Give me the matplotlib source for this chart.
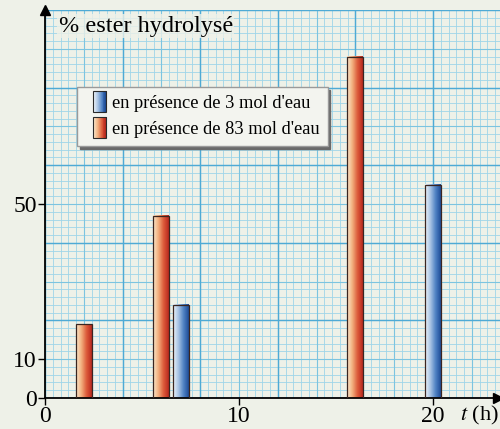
import numpy as np
import matplotlib
matplotlib.use('Agg')
import matplotlib.pyplot as plt
from matplotlib.patches import Rectangle
from matplotlib.legend_handler import HandlerBase
from matplotlib.colors import LinearSegmentedColormap

plt.rcParams['font.family'] = ['Liberation Serif', 'DejaVu Serif']
plt.rcParams['mathtext.fontset'] = 'stix'

# hydrolysis data, t in hours, % of ester hydrolysed
t_83 = [2, 6, 16]
pct_83 = [19, 47, 88]
t_3 = [7, 20]
pct_3 = [24, 55]

labels = ["en présence de 3 mol d'eau", "en présence de 83 mol d'eau"]
xticks = [0, 10, 20]
yticks = [0, 10, 50]

paper = '#eef1e8'
red_cmap = LinearSegmentedColormap.from_list('red', ['#fbe9cf', '#f2b07e', '#dc5a3a', '#b8281e'])
blue_cmap = LinearSegmentedColormap.from_list('blue', ['#f1f6fb', '#a9c4e4', '#4f82c4', '#1d4b96'])

fig = plt.figure(figsize=(5, 4.29), dpi=100, facecolor=paper)
ax = fig.add_axes([0.09, 0.0723, 0.91, 0.9044])
ax.set_facecolor(paper)
xmax = 455 / 19.4
ax.set_xlim(0, xmax)
ax.set_ylim(0, 100)

# graph paper: mm lines, half-cm lines, cm lines
for xv in np.arange(0, xmax, 0.4):
    ax.axvline(xv, color='#9fd5e8', lw=0.6, zorder=0)
for yv in np.arange(0, 100.1, 2):
    ax.axhline(yv, color='#9fd5e8', lw=0.6, zorder=0)
for xv in np.arange(0, xmax, 2):
    ax.axvline(xv, color='#7cc4e0', lw=0.8, zorder=0)
for yv in np.arange(0, 100.1, 10):
    ax.axhline(yv, color='#7cc4e0', lw=0.8, zorder=0)
for xv in np.arange(0, xmax, 4):
    ax.axvline(xv, color='#4eaad5', lw=1.0, zorder=0)
for yv in np.arange(0, 100.1, 20):
    ax.axhline(yv, color='#4eaad5', lw=1.0, zorder=0)

width = 0.82
grad = np.linspace(0, 1, 256).reshape(1, -1)


def gradient_bars(xs, hs, cmap):
    bars = ax.bar(xs, hs, width=width, facecolor='none', edgecolor='#3a2520', lw=0.9, zorder=3)
    for b in bars:
        x0, y0 = b.get_x(), b.get_y()
        ax.imshow(grad, cmap=cmap, aspect='auto', zorder=2,
                  extent=(x0, x0 + b.get_width(), y0, y0 + b.get_height()))
    return bars


gradient_bars(t_83, pct_83, red_cmap)
gradient_bars(t_3, pct_3, blue_cmap)
ax.set_xlim(0, xmax)
ax.set_ylim(0, 100)


class GradientHandler(HandlerBase):
    def __init__(self, cmap):
        super().__init__()
        self.cmap = cmap

    def create_artists(self, legend, orig_handle, xdescent, ydescent, width, height, fontsize, trans):
        arts = []
        n = 14
        w = height * 1.0
        x0 = -xdescent + width - w
        for i in range(n):
            arts.append(Rectangle((x0 + i * w / n, -ydescent - 3), w / n + 0.3, height + 6,
                                  facecolor=self.cmap(i / (n - 1)), edgecolor='none', transform=trans))
        arts.append(Rectangle((x0, -ydescent - 3), w, height + 6, facecolor='none',
                              edgecolor='#2a2a2a', lw=0.8, transform=trans))
        return arts


h3 = Rectangle((0, 0), 1, 1)
h83 = Rectangle((0, 0), 1, 1)
leg = ax.legend([h3, h83], labels, loc='upper left', bbox_to_anchor=(0.07, 0.802),
                handler_map={h3: GradientHandler(blue_cmap), h83: GradientHandler(red_cmap)},
                fontsize=13.2, frameon=True, fancybox=False, shadow={'color': '#6a6a6a', 'alpha': 1},
                borderpad=0.45, handlelength=1.15, handletextpad=0.3, labelspacing=0.5,
                borderaxespad=0)
leg.get_frame().set_facecolor('#f3f4ef')
leg.get_frame().set_edgecolor('#9a9a9a')
leg.get_frame().set_alpha(1)
leg.set_zorder(5)

# axes with arrows
for s in ['top', 'right']:
    ax.spines[s].set_visible(False)
ax.spines['left'].set_linewidth(1.3)
ax.spines['bottom'].set_linewidth(1.3)
ax.plot(0, 1.0, '^', color='black', ms=7, transform=ax.transAxes, clip_on=False, zorder=6)
ax.plot(0.995, 0, '>', color='black', ms=7, transform=ax.transAxes, clip_on=False, zorder=6)

ax.set_xticks(xticks)
ax.set_yticks(yticks)
ax.tick_params(labelsize=17, length=5, width=1, color='black', pad=1)

ax.text(0.03, 0.985, '% ester hydrolysé', transform=ax.transAxes, fontsize=17.5,
        va='top', ha='left', zorder=6,
        bbox=dict(facecolor=paper, edgecolor='none', alpha=0.8, pad=1))
ax.text(xmax - 0.08, -1.5, '$t$ (h)', fontsize=16, ha='right', va='top', clip_on=False)

fig.savefig('out.png', dpi=100, facecolor=paper)
